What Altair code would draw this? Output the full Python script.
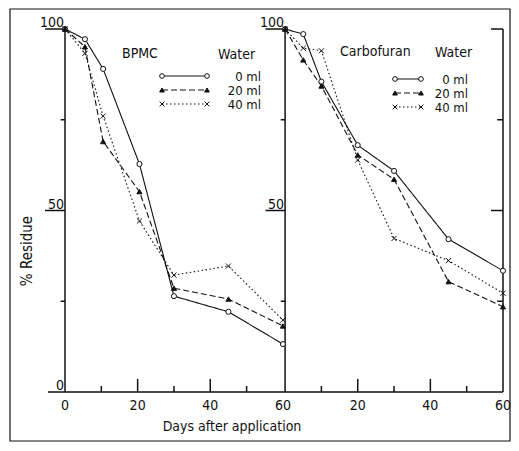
import altair as alt
import pandas as pd

# ---------------- values ----------------
panels = ["BPMC", "Carbofuran"]
water = ["0 ml", "20 ml", "40 ml"]

bpmc_days = [0, 5.5, 10.5, 20.5, 30, 45, 60]
bpmc_0ml = [100, 97.2, 89.0, 62.8, 26.4, 22.1, 13.2]
bpmc_20ml = [100, 95.1, 69.0, 55.2, 28.6, 25.6, 18.2]
bpmc_40ml = [100, 93.3, 76.0, 47.1, 32.2, 34.7, 19.8]

carb_days = [0, 5, 10, 20, 30, 45, 60]
carb_0ml = [100, 98.6, 85.5, 68.0, 60.9, 42.1, 33.4]
carb_20ml = [100, 91.5, 84.3, 65.3, 58.6, 30.4, 23.5]
carb_40ml = [100, 94.7, 94.0, 63.9, 42.3, 36.2, 27.2]

x_label_values = [0, 20, 40, 60]
y_label_values = [0, 50, 100]
x_tick_values = [10, 20, 30, 40, 50]
y_tick_values = [25, 50, 75, 100]

x_title = "Days after application"
y_title = "% Residue"
legend_title = "Water"

# ---------------- layout ----------------
PANEL_SHIFT = 60.6          # right panel's day 0, in the shared day scale
XMAX = PANEL_SHIFT + 60
W, H = 438, 363
FONT = "Liberation Sans Narrow, DejaVu Sans Condensed, DejaVu Sans, sans-serif"
XS = alt.Scale(domain=[0, XMAX], nice=False, zero=False)
YS = alt.Scale(domain=[0, 100], nice=False, zero=False)
INK = "#111111"

shifts = {"BPMC": 0.0, "Carbofuran": PANEL_SHIFT}

# ---------------- tables ----------------
rows = []
for panel, days, vals in [("BPMC", bpmc_days, [bpmc_0ml, bpmc_20ml, bpmc_40ml]),
                          ("Carbofuran", carb_days, [carb_0ml, carb_20ml, carb_40ml])]:
    for s, v in zip(water, vals):
        for d, y in zip(days, v):
            rows.append({"panel": panel, "water": s, "day": d,
                         "pos": d + shifts[panel], "residue": y, "key": panel + s})
df = pd.DataFrame(rows)

dash_scale = alt.Scale(domain=water, range=[[1, 0], [6, 3], [1.5, 2.5]])
shape_scale = alt.Scale(domain=water, range=["circle", "triangle-up", "M-1,-1L1,1M-1,1L1,-1"])
fill_scale = alt.Scale(domain=water, range=["white", INK, INK])

# axis lines and ticks (data units)
segs = []
segs.append({"x": 0, "x2": 0, "y": 0, "y2": 100})
segs.append({"x": PANEL_SHIFT, "x2": PANEL_SHIFT, "y": 0, "y2": 100})
segs.append({"x": XMAX, "x2": XMAX, "y": 0, "y2": 100})
segs.append({"x": -4.7, "x2": XMAX, "y": 0, "y2": 0})
for v in y_tick_values:
    major = v % 50 == 0
    segs.append({"x": -5.5 if major else -1.2, "x2": 0, "y": v, "y2": v})
    segs.append({"x": PANEL_SHIFT - (5.4 if major else 1.2), "x2": PANEL_SHIFT, "y": v, "y2": v})
    segs.append({"x": XMAX - (3.3 if major else 1.6), "x2": XMAX, "y": v, "y2": v})
for p in panels:
    for t in x_tick_values:
        ln = 3.6 if t % 20 == 0 else 1.65
        segs.append({"x": t + shifts[p], "x2": t + shifts[p], "y": 0, "y2": ln})
seg_df = pd.DataFrame(segs)

frame = alt.Chart(pd.DataFrame({"f": [0]})).mark_rect(
    fillOpacity=0, stroke=INK, strokeWidth=1.2
).encode(x=alt.value(-55), x2=alt.value(445), y=alt.value(-20), y2=alt.value(412))

axes = alt.Chart(seg_df).mark_rule(color=INK, strokeWidth=1.5).encode(
    x=alt.X("x:Q", scale=XS, axis=None), x2="x2:Q",
    y=alt.Y("y:Q", scale=YS, axis=None), y2="y2:Q",
)

lines = alt.Chart(df).mark_line(color=INK, strokeWidth=1.1).encode(
    x=alt.X("pos:Q", scale=XS, axis=None),
    y=alt.Y("residue:Q", scale=YS, axis=None),
    detail="key:N",
    order="day:Q",
    strokeDash=alt.StrokeDash("water:N", scale=dash_scale, legend=None),
)

points = alt.Chart(df).mark_point(filled=True, stroke=INK, strokeWidth=1, opacity=1, size=26).encode(
    x=alt.X("pos:Q", scale=XS, axis=None),
    y=alt.Y("residue:Q", scale=YS, axis=None),
    shape=alt.Shape("water:N", scale=shape_scale, legend=None),
    fill=alt.Fill("water:N", scale=fill_scale, legend=None),
)

# ---------------- legends (pixel layout) ----------------
LEG = {
    "BPMC": dict(x1=97, x2=142, rows=[47, 61, 75], text_x=196, title_x=57, water_x=153, title_y=29),
    "Carbofuran": dict(x1=330, x2=356, rows=[50, 64, 78], text_x=403, title_x=275, water_x=370, title_y=27),
}
leg_lines, leg_pts, leg_txt, titles = [], [], [], []
for p in panels:
    L = LEG[p]
    titles.append({"px": L["title_x"], "py": L["title_y"], "t": p})
    titles.append({"px": L["water_x"], "py": L["title_y"] + 1, "t": legend_title})
    for s, yy in zip(water, L["rows"]):
        leg_lines.append({"water": s, "lx1": L["x1"], "lx2": L["x2"], "ly": yy})
        leg_pts.append({"water": s, "lx": L["x1"], "ly": yy})
        leg_pts.append({"water": s, "lx": L["x2"], "ly": yy})
        leg_txt.append({"px": L["text_x"], "py": yy + 4.5, "t": s})

leg_line_layer = alt.Chart(pd.DataFrame(leg_lines)).mark_rule(color=INK, strokeWidth=1.1).encode(
    x=alt.X("lx1:Q", scale=None), x2="lx2:Q", y=alt.Y("ly:Q", scale=None),
    strokeDash=alt.StrokeDash("water:N", scale=dash_scale, legend=None),
)
leg_pt_layer = alt.Chart(pd.DataFrame(leg_pts)).mark_point(
    filled=True, stroke=INK, strokeWidth=1, opacity=1, size=22
).encode(
    x=alt.X("lx:Q", scale=None), y=alt.Y("ly:Q", scale=None),
    shape=alt.Shape("water:N", scale=shape_scale, legend=None),
    fill=alt.Fill("water:N", scale=fill_scale, legend=None),
)
leg_txt_layer = alt.Chart(pd.DataFrame(leg_txt)).mark_text(
    align="right", baseline="alphabetic", font=FONT, fontSize=13, color=INK
).encode(x=alt.X("px:Q", scale=None), y=alt.Y("py:Q", scale=None), text="t:N")
title_layer = alt.Chart(pd.DataFrame(titles)).mark_text(
    align="left", baseline="alphabetic", font=FONT, fontSize=14, color=INK
).encode(x=alt.X("px:Q", scale=None), y=alt.Y("py:Q", scale=None), text="t:N")

# ---------------- tick labels ----------------
xl = []
for p in panels:
    for v in x_label_values:
        if p == "Carbofuran" and v == 0:
            continue
        xl.append({"pos": v + shifts[p], "lab": str(v)})
xlab = alt.Chart(pd.DataFrame(xl)).mark_text(
    align="center", baseline="alphabetic", font=FONT, fontSize=14, color=INK
).encode(x=alt.X("pos:Q", scale=XS, axis=None), y=alt.value(381), text="lab:N")

yl = []
for p in panels:
    for v in y_label_values:
        if p == "Carbofuran" and v == 0:
            continue
        yl.append({"pos": shifts[p], "v": v, "lab": str(v)})
ylab = alt.Chart(pd.DataFrame(yl)).mark_text(
    align="right", baseline="alphabetic", font=FONT, fontSize=14, color=INK, dx=-1, dy=-2
).encode(x=alt.X("pos:Q", scale=XS, axis=None), y=alt.Y("v:Q", scale=YS, axis=None), text="lab:N")

xtitle = alt.Chart(pd.DataFrame({"t": [x_title]})).mark_text(
    align="center", baseline="alphabetic", font=FONT, fontSize=14, color=INK
).encode(x=alt.value(167), y=alt.value(402), text="t:N")
ytitle = alt.Chart(pd.DataFrame({"t": [y_title]})).mark_text(
    align="center", baseline="middle", font=FONT, fontSize=15, color=INK, angle=270
).encode(x=alt.value(-38), y=alt.value(222), text="t:N")

chart = alt.layer(
    frame, axes, lines, points, leg_line_layer, leg_pt_layer, leg_txt_layer,
    title_layer, xlab, ylab, xtitle, ytitle
).properties(
    width=W, height=H,
    autosize=alt.AutoSizeParams(type="none"),
    padding={"left": 57, "top": 21, "right": 8, "bottom": 50},
    background="white",
).configure_view(stroke=None)

chart.save("out.html", embed_options={"renderer": "svg", "actions": False})
